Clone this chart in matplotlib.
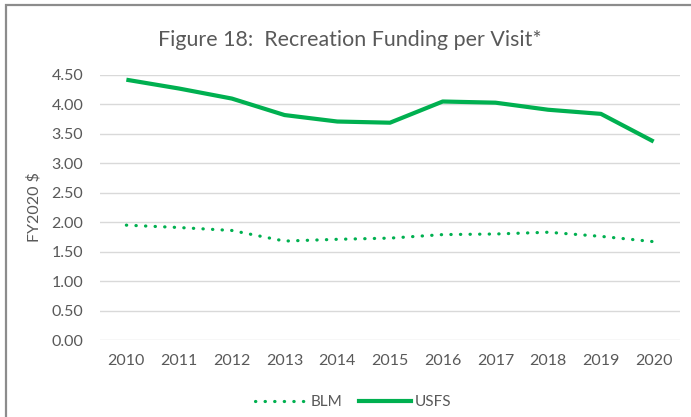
import matplotlib
matplotlib.use("Agg")
import matplotlib.pyplot as plt
from matplotlib.patches import Rectangle
from matplotlib.lines import Line2D

plt.rcParams["font.family"] = ["Lato", "DejaVu Sans"]

# data
years = ["2010", "2011", "2012", "2013", "2014", "2015",
         "2016", "2017", "2018", "2019", "2020"]
blm = [1.95, 1.91, 1.86, 1.68, 1.71, 1.73, 1.79, 1.80, 1.83, 1.76, 1.67]
usfs = [4.42, 4.27, 4.10, 3.82, 3.71, 3.69, 4.05, 4.03, 3.91, 3.84, 3.37]
yticks = [0, 0.5, 1.0, 1.5, 2.0, 2.5, 3.0, 3.5, 4.0, 4.5]

green = "#00B050"
text_col = "#595959"
dot_style = (0, (0.1, 2.9))

fig = plt.figure(figsize=(6.91, 4.17), dpi=100)
ax = fig.add_axes([100 / 691, 1 - 340 / 417, 580 / 691, 265 / 417])

x = list(range(len(years)))
ax.plot(x, blm, color=green, linewidth=2.3, linestyle=dot_style,
        dash_capstyle="round", label="BLM")
ax.plot(x, usfs, color=green, linewidth=3.0, solid_capstyle="butt",
        solid_joinstyle="round", label="USFS")

ax.set_xlim(-0.5, len(years) - 0.5)
ax.set_ylim(0, 4.5)
ax.set_yticks(yticks)
ax.set_yticklabels([f"{v:.2f}" for v in yticks])
ax.set_xticks(x)
ax.set_xticklabels(years)
ax.tick_params(length=0, labelsize=11.5, colors=text_col)
ax.tick_params(axis="x", pad=10)
ax.tick_params(axis="y", pad=12)
ax.grid(axis="y", color="#D9D9D9", linewidth=1.0)
ax.set_axisbelow(True)
for s in ax.spines.values():
    s.set_visible(False)

ax.set_ylabel("FY2020 $", fontsize=11.5, color=text_col)
ax.yaxis.set_label_coords(-59 / 580, 0.5)

fig.text(350 / 691, 1 - 40 / 417, "Figure 18:  Recreation Funding per Visit*",
         ha="center", va="center", fontsize=15.4, color=text_col)

handles = [
    Line2D([], [], color=green, linewidth=2.3, linestyle=dot_style,
           dash_capstyle="round"),
    Line2D([], [], color=green, linewidth=3.0),
]
fig.legend(handles, ["BLM", "USFS"], loc="center", ncol=2,
           bbox_to_anchor=(353 / 691, 1 - 402 / 417), frameon=False,
           fontsize=11, labelcolor=text_col, handlelength=3.4,
           handletextpad=0.25, columnspacing=1.1)

# outer chart border (cropped on right and bottom)
fig.patches.append(Rectangle((6 / 691, -0.1), 1.2, 1 - 5 / 417 + 0.1,
                             transform=fig.transFigure, fill=False,
                             edgecolor="#8C8C8C", linewidth=1.6,
                             clip_on=False))

fig.savefig("out.png", dpi=100)
